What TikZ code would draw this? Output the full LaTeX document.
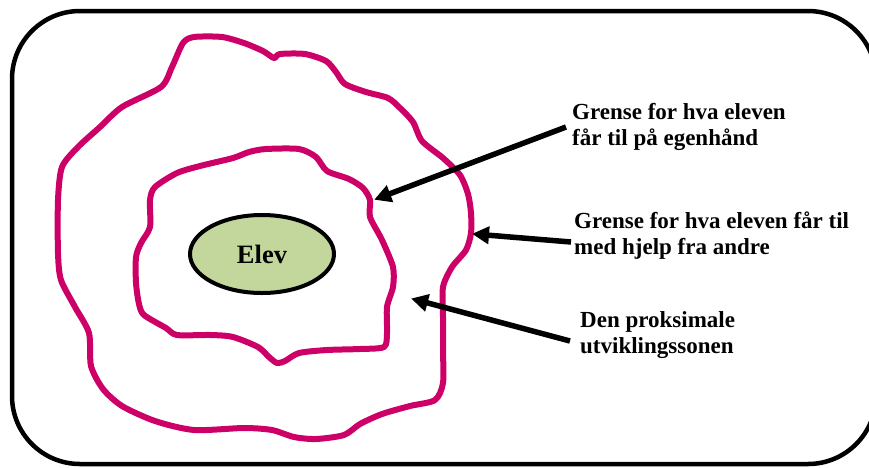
\documentclass[tikz,border=0pt]{standalone}
\usepackage{fontspec}
\setmainfont{Liberation Serif}
\usetikzlibrary{arrows.meta,shapes.geometric}
\definecolor{zonepink}{HTML}{CC0066}
\definecolor{elevgreen}{HTML}{C3D69B}
\tikzset{
  frame/.style={draw=black, line width=4.5pt, rounded corners=68pt},
  zone/.style={draw=zonepink, line width=6pt, line join=round},
  label/.style={font=\bfseries\fontsize{23}{26}\selectfont, align=left, anchor=west, inner sep=0pt},
  pointer/.style={draw=black, line width=5.5pt, -{Triangle[length=17pt,width=17pt]}, shorten >=-2pt},
}
\begin{document}
\begin{tikzpicture}[x=1pt,y=-1pt]
\useasboundingbox (0,0) rectangle (869,467);
% outer frame, its right side runs past the page edge
\draw[frame] (12,11) rectangle (876,464);

% outer zone: what the pupil manages with help
\draw[zone] plot[smooth cycle, tension=0.45] coordinates {
  (194,37) (222,37) (244,43) (263,51) (274,58) (280,54) (305,54) (326,61)
  (336,72) (345,84) (366,92) (388,98) (400,108) (413,122) (422,141)
  (443,158) (460,175) (468,194) (471,213) (471,233) (466,250) (452,267)
  (443,287) (443,317) (443,350) (443,383) (435,400) (410,406) (382,414)
  (360,424) (344,435) (316,439) (294,437) (272,430) (244,428) (194,430)
  (155,421) (122,406) (103,389) (91,366) (89,333) (75,307) (61,280)
  (58,253) (58,200) (62,167) (78,147) (100,127) (122,107) (161,87)
  (172,67) (183,43)};

% inner zone: what the pupil manages alone
\draw[zone] plot[smooth cycle, tension=0.45] coordinates {
  (266,149) (299,149) (316,157) (327,171) (349,179) (363,188) (370,200)
  (370,217) (382,240) (393,267) (393,287) (387,307) (387,333) (384,347)
  (360,349) (327,350) (299,353) (285,361) (277,363) (269,357) (258,347)
  (233,337) (211,335) (177,335) (166,328) (144,315) (139,304) (136,283)
  (136,257) (141,243) (150,227) (150,200) (155,187) (177,173) (200,166)
  (233,158) (249,152)};

% the pupil
\node[draw=black, line width=4pt, fill=elevgreen, ellipse, minimum width=144pt, minimum height=78pt,
      inner sep=0pt, font=\bfseries\fontsize{26.5}{30}\selectfont] (elev) at (262,254) {Elev};

% explanatory labels
\node[label] (alone) at (572,127) {Grense for hva eleven\\får til på egenhånd};
\node[label] (help) at (574,236) {Grense for hva eleven får til\\med hjelp fra andre};
\node[label] (zpd) at (580,335) {Den proksimale\\utviklingssonen};

% arrow targets on the zone borders
\coordinate (aloneTip) at (376,199);
\coordinate (helpTip) at (474,234);
\coordinate (zpdTip) at (413,299);

\draw[pointer] ([xshift=-6pt]alone.west) -- (aloneTip);
\draw[pointer] ([xshift=-3pt,yshift=-6pt]help.west) -- (helpTip);
\draw[pointer] ([xshift=-10pt,yshift=-6pt]zpd.west) -- (zpdTip);
\end{tikzpicture}
\end{document}
